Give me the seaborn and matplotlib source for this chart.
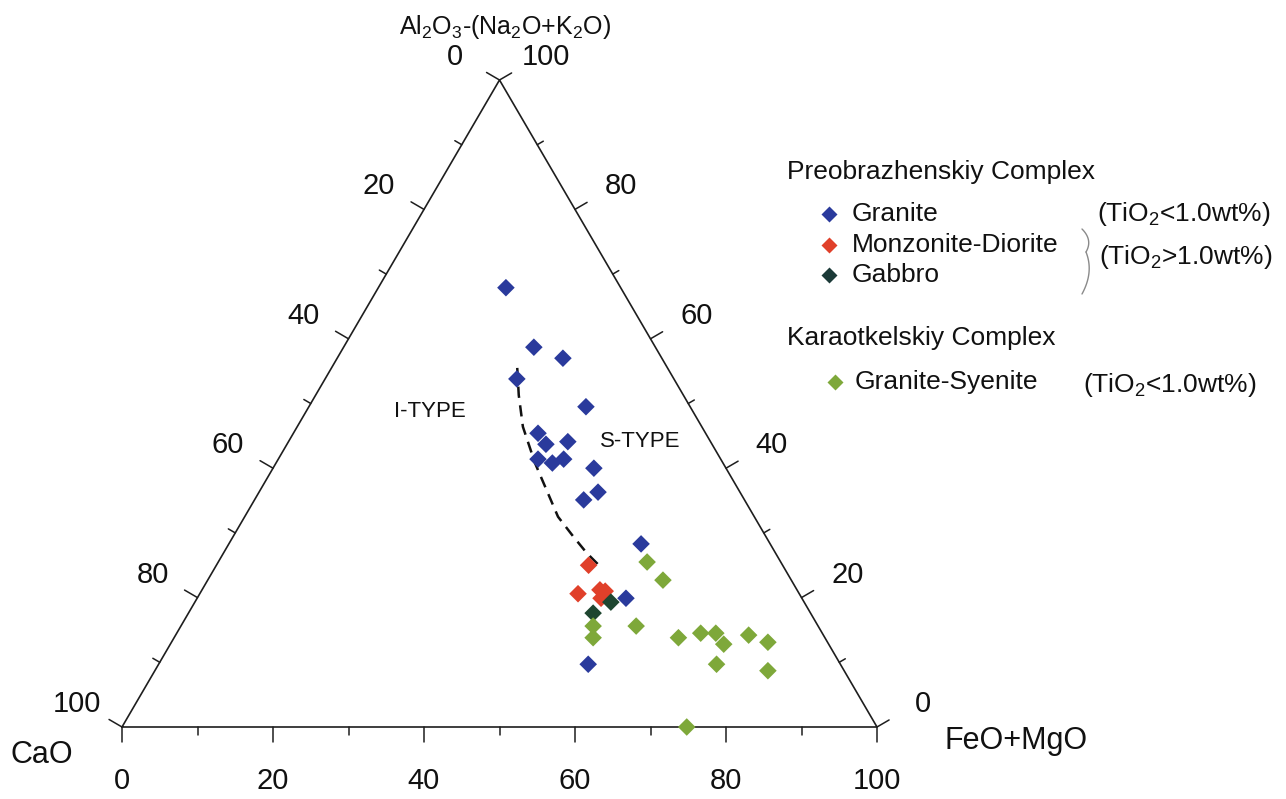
import numpy as np
import pandas as pd
import matplotlib
matplotlib.use("Agg")
import matplotlib.pyplot as plt
import seaborn as sns

# ---- Data (ternary %): Al2O3-(Na2O+K2O) = apex, FeO+MgO = right corner, CaO = remainder
granite_al = [67.9, 58.7, 57.0, 53.8, 49.5, 45.4, 43.7, 44.1, 41.4, 40.8, 41.4, 40.0, 36.3, 35.1, 28.3, 19.9, 9.7]
granite_fm = [16.9, 25.2, 29.9, 25.4, 36.7, 32.4, 34.3, 37.0, 34.4, 36.6, 37.8, 42.5, 44.9, 43.6, 54.6, 56.8, 56.9]
monz_al = [25.0, 20.6, 21.2, 21.0, 19.9]
monz_fm = [49.3, 50.1, 52.7, 53.5, 53.5]
gabbro_al = [19.3, 17.6]
gabbro_fm = [55.1, 53.6]
syenite_al = [25.5, 22.7, 15.6, 13.8, 15.6, 13.8, 14.5, 14.5, 12.8, 14.2, 13.1, 9.7, 8.7, 0.0]
syenite_fm = [56.8, 60.3, 54.6, 55.5, 60.3, 66.8, 69.4, 71.4, 73.3, 75.9, 79.0, 73.9, 81.2, 74.8]
boundary_al = [55.5, 51.3, 46.4, 40.8, 32.5, 29.4, 26.9, 25.2]
boundary_fm = [24.6, 26.9, 29.9, 34.3, 41.5, 45.1, 48.1, 50.4]

groups = ["Granite", "Monzonite-Diorite", "Gabbro", "Granite-Syenite"]
colors = ["#2a3a9c", "#e0402a", "#1e4630", "#7ea83a"]
tick_values = list(range(0, 101, 10))
label_values = list(range(0, 101, 20))

SQ = np.sqrt(3) / 2


def tern_xy(al, fm):
    al = np.asarray(al, float) / 100.0
    fm = np.asarray(fm, float) / 100.0
    return fm + al / 2.0, al * SQ


rows = []
for g, al, fm in [("Granite", granite_al, granite_fm),
                  ("Monzonite-Diorite", monz_al, monz_fm),
                  ("Gabbro", gabbro_al, gabbro_fm),
                  ("Granite-Syenite", syenite_al, syenite_fm)]:
    for a, f in zip(al, fm):
        rows.append({"group": g, "Al": a, "FM": f, "CaO": 100 - a - f})
df = pd.DataFrame(rows)
df["x"], df["y"] = tern_xy(df["Al"], df["FM"])

sns.set_theme(style="white")
plt.rcParams["font.family"] = ["Liberation Sans", "DejaVu Sans"]
plt.rcParams["mathtext.fontset"] = "custom"
plt.rcParams["mathtext.rm"] = "Liberation Sans"
plt.rcParams["mathtext.default"] = "regular"

W, H = 1286, 799
fig = plt.figure(figsize=(W / 100, H / 100), dpi=100)
fig.patch.set_facecolor("white")
ax = fig.add_axes([0, 0, 1, 1])
PX = 755.0
PY = 647.0 / SQ
X0, Y0 = 122, 727
ax.set_xlim(-X0 / PX, (W - X0) / PX)
ax.set_ylim(-(H - Y0) / PY, Y0 / PY)
ax.axis("off")

LC = "#1e1e1e"
# triangle frame
ax.plot([0, 1, 0.5, 0], [0, 0, SQ, 0], color=LC, lw=1.2, solid_joinstyle="miter", zorder=2)

# ticks
ux, uy = 0.864, 0.503
for v in tick_values:
    L = 15 if v % 20 == 0 else 8
    # bottom (FeO+MgO)
    ax.plot([v / 100, v / 100], [0, -L / PY], color=LC, lw=1.1, zorder=2)
    # left (CaO): CaO=v -> Al = 100-v, FM = 0
    x, y = tern_xy(100 - v, 0)
    ax.plot([x, x - L * ux / PX], [y, y + L * uy / PY], color=LC, lw=1.1, zorder=2)
    # right (Al2O3-(Na2O+K2O)): Al = v, FM = 100-v
    x, y = tern_xy(v, 100 - v)
    Lr = 14 if v % 20 == 0 else 7
    ax.plot([x, x + Lr * ux / PX], [y, y + Lr * uy / PY], color=LC, lw=1.1, zorder=2)

TFS = 21
for v in label_values:
    ax.annotate(str(v), (v / 100, 0), xytext=(0, -54), textcoords="offset pixels",
                ha="center", va="center", fontsize=TFS, color="#111")
    x, y = tern_xy(100 - v, 0)
    ax.annotate(str(v), (x, y), xytext=(-45, 23), textcoords="offset pixels",
                ha="center", va="center", fontsize=TFS, color="#111")
    x, y = tern_xy(v, 100 - v)
    ax.annotate(str(v), (x, y), xytext=(46, 23), textcoords="offset pixels",
                ha="center", va="center", fontsize=TFS, color="#111")


def fx(px):
    return px / W


def fy(py):
    return 1 - py / H


# axis titles
fig.text(fx(505), fy(27), r"Al$_2$O$_3$-(Na$_2$O+K$_2$O)", ha="center", va="center", fontsize=18, color="#111")
fig.text(fx(42), fy(755), "CaO", ha="center", va="center", fontsize=22, color="#111")
fig.text(fx(1016), fy(741), "FeO+MgO", ha="center", va="center", fontsize=22, color="#111")

# I/S boundary
bx, by = tern_xy(boundary_al, boundary_fm)
ax.plot(bx, by, color="#111", lw=1.8, ls=(0, (4.5, 3)), zorder=3)

# data points
sns.scatterplot(data=df, x="x", y="y", hue="group", hue_order=groups,
                palette=dict(zip(groups, colors)), marker="D", s=80,
                linewidth=0, legend=False, ax=ax, zorder=4)
ax.set_xlabel("")
ax.set_ylabel("")

# region labels
ax.text(*tern_xy(48.8, 16.4), "I-TYPE", ha="center", va="center", fontsize=16, color="#111")
ax.text(*tern_xy(44.2, 46.6), "S-TYPE", ha="center", va="center", fontsize=16, color="#111")

# legend (manual)
LFS = 19
fig.text(fx(787), fy(172), "Preobrazhenskiy Complex", ha="left", va="center", fontsize=LFS, color="#111")
legend_items = [("Granite", colors[0], 829, 214, 852),
                ("Monzonite-Diorite", colors[1], 829, 245, 852),
                ("Gabbro", "#1c3a38", 829, 275, 852)]
for name, c, mx, my, tx in legend_items:
    ax.plot([fx(mx)], [fy(my)], marker="D", ms=8, color=c, mec="none",
            transform=fig.transFigure, clip_on=False)
    fig.text(fx(tx), fy(my), name, ha="left", va="center", fontsize=LFS, color="#111")
fig.text(fx(787), fy(338), "Karaotkelskiy Complex", ha="left", va="center", fontsize=LFS, color="#111")
ax.plot([fx(835)], [fy(382)], marker="D", ms=8, color=colors[3], mec="none",
        transform=fig.transFigure, clip_on=False)
fig.text(fx(855), fy(382), "Granite-Syenite", ha="left", va="center", fontsize=LFS, color="#111")

fig.text(fx(1097), fy(214), r"(TiO$_2$<1.0wt%)", ha="left", va="center", fontsize=LFS, color="#111")
fig.text(fx(1099), fy(257), r"(TiO$_2$>1.0wt%)", ha="left", va="center", fontsize=LFS, color="#111")
fig.text(fx(1083), fy(385), r"(TiO$_2$<1.0wt%)", ha="left", va="center", fontsize=LFS, color="#111")

# thin brace
t = np.linspace(0, 1, 30)
def qbez(p0, p1, p2):
    return ((1 - t) ** 2)[:, None] * np.array(p0) + (2 * (1 - t) * t)[:, None] * np.array(p1) + (t ** 2)[:, None] * np.array(p2)
for seg in [qbez((1082, 229), (1093, 240), (1086, 252)), qbez((1086, 252), (1094, 272), (1082, 294))]:
    ax.plot(fx(seg[:, 0]), fy(seg[:, 1]), color="#8a8a8a", lw=1.0, transform=fig.transFigure, clip_on=False)

fig.savefig("out.png", dpi=100, facecolor="white")
